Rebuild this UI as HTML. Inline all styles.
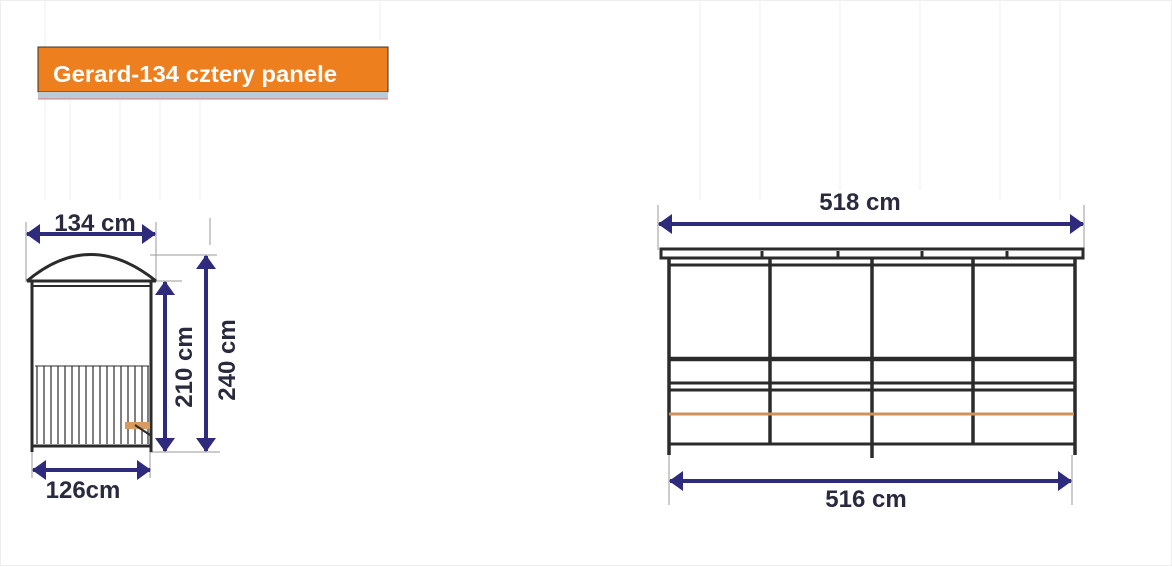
<!DOCTYPE html>
<html><head><meta charset="utf-8"><style>
html,body{margin:0;padding:0;background:#fff;}
svg{display:block;}
text{font-family:"Liberation Sans",Arial,sans-serif;font-weight:bold;}
</style></head><body>
<svg width="1172" height="567" viewBox="0 0 1172 567" xmlns="http://www.w3.org/2000/svg">
<defs>
<marker id="a" viewBox="0 0 14 20" refX="13" refY="10" markerWidth="14" markerHeight="20" markerUnits="userSpaceOnUse" orient="auto-start-reverse">
<path d="M0,0 L14,10 L0,20 Z" fill="#2e2a7c"/></marker>
</defs>
<rect x="0.5" y="0.5" width="1171" height="565" fill="none" stroke="#eee"/>
<g stroke="#efefef" stroke-width="1">
<line x1="45" y1="0" x2="45" y2="200"/><line x1="70" y1="100" x2="70" y2="200"/><line x1="120" y1="100" x2="120" y2="200"/>
<line x1="160" y1="100" x2="160" y2="200"/><line x1="200" y1="100" x2="200" y2="200"/><line x1="380" y1="0" x2="380" y2="40"/>
<line x1="700" y1="0" x2="700" y2="200"/><line x1="760" y1="0" x2="760" y2="200"/><line x1="840" y1="0" x2="840" y2="190"/>
<line x1="920" y1="0" x2="920" y2="190"/><line x1="1000" y1="0" x2="1000" y2="200"/><line x1="1060" y1="0" x2="1060" y2="200"/>
</g>
<rect x="38" y="47" width="350" height="45" fill="#ee7f1e" stroke="#333" stroke-width="1"/>
<rect x="38" y="92" width="350" height="7" fill="#b9cbd6"/>
<line x1="38" y1="99" x2="388" y2="99" stroke="#d77" stroke-width="1"/>
<text x="53" y="82" font-size="23" fill="#fff" textLength="284" lengthAdjust="spacingAndGlyphs">Gerard-134 cztery panele</text>

<g stroke="#999" stroke-width="1">
<line x1="26" y1="222" x2="26" y2="282"/><line x1="156" y1="222" x2="156" y2="282"/>
<line x1="150" y1="255" x2="217" y2="255"/><line x1="150" y1="281" x2="182" y2="281"/>
<line x1="150" y1="452" x2="220" y2="452"/><line x1="210" y1="218" x2="210" y2="245"/>
<line x1="32" y1="452" x2="32" y2="478"/><line x1="150" y1="452" x2="150" y2="478"/>
</g>
<g stroke="#2b2b2b" fill="none">
<path d="M27,281 Q90,228 156,281" stroke-width="3"/>
<line x1="27" y1="281" x2="156" y2="281" stroke-width="3"/>
<line x1="32" y1="286" x2="151" y2="286" stroke-width="2"/>
<line x1="32" y1="281" x2="32" y2="452" stroke-width="3"/>
<line x1="151" y1="281" x2="151" y2="452" stroke-width="3"/>
<line x1="35" y1="366" x2="149" y2="366" stroke-width="1"/>
<line x1="32" y1="446" x2="151" y2="446" stroke-width="3"/>
<g stroke-width="1.2">
<line x1="37" y1="366" x2="37" y2="444"/><line x1="44" y1="366" x2="44" y2="444"/><line x1="51" y1="366" x2="51" y2="444"/>
<line x1="58" y1="366" x2="58" y2="444"/><line x1="65" y1="366" x2="65" y2="444"/><line x1="72" y1="366" x2="72" y2="444"/>
<line x1="79" y1="366" x2="79" y2="444"/><line x1="86" y1="366" x2="86" y2="444"/><line x1="93" y1="366" x2="93" y2="444"/>
<line x1="100" y1="366" x2="100" y2="444"/><line x1="107" y1="366" x2="107" y2="444"/><line x1="114" y1="366" x2="114" y2="444"/>
<line x1="121" y1="366" x2="121" y2="444"/><line x1="128" y1="366" x2="128" y2="444"/><line x1="135" y1="366" x2="135" y2="444"/>
<line x1="142" y1="366" x2="142" y2="444"/><line x1="148" y1="366" x2="148" y2="444"/>
</g>
</g>
<rect x="125" y="422" width="25" height="7" fill="#d89a5e"/>
<line x1="135" y1="425" x2="150" y2="435" stroke="#2b2b2b" stroke-width="2"/>
<g stroke="#2e2a7c" stroke-width="4" marker-start="url(#a)" marker-end="url(#a)">
<line x1="27" y1="234" x2="155" y2="234"/>
<line x1="165" y1="282" x2="165" y2="451"/>
<line x1="206" y1="256" x2="206" y2="451"/>
<line x1="33" y1="470" x2="150" y2="470"/>
</g>
<g fill="#2a2a3e" font-size="24">
<text x="95" y="231" text-anchor="middle">134 cm</text>
<text x="83" y="498" text-anchor="middle">126cm</text>
<text transform="translate(192,367) rotate(-90)" text-anchor="middle">210 cm</text>
<text transform="translate(235,360) rotate(-90)" text-anchor="middle">240 cm</text>
</g>

<g stroke="#999" stroke-width="1">
<line x1="658" y1="205" x2="658" y2="250"/><line x1="1084" y1="205" x2="1084" y2="250"/>
<line x1="669" y1="455" x2="669" y2="505"/><line x1="1072" y1="455" x2="1072" y2="505"/>
</g>
<g stroke="#2b2b2b" fill="none">
<rect x="661" y="249" width="422" height="9" stroke-width="3"/>
<line x1="762" y1="251" x2="762" y2="257" stroke-width="3"/>
<line x1="838" y1="251" x2="838" y2="257" stroke-width="3"/>
<line x1="922" y1="251" x2="922" y2="257" stroke-width="3"/>
<line x1="1007" y1="251" x2="1007" y2="257" stroke-width="3"/>
<line x1="662" y1="258" x2="1082" y2="258" stroke-width="3"/>
<line x1="669" y1="259" x2="669" y2="455" stroke-width="3.5"/>
<line x1="770" y1="259" x2="770" y2="443" stroke-width="3.5"/>
<line x1="872" y1="259" x2="872" y2="458" stroke-width="3.5"/>
<line x1="973" y1="259" x2="973" y2="443" stroke-width="3.5"/>
<line x1="1075" y1="259" x2="1075" y2="455" stroke-width="3.5"/>
<line x1="669" y1="265" x2="1075" y2="265" stroke-width="3"/>
<line x1="669" y1="359" x2="1075" y2="359" stroke-width="4.5"/>
<line x1="669" y1="383" x2="1075" y2="383" stroke-width="3"/>
<line x1="669" y1="390" x2="1075" y2="390" stroke-width="3"/>
<line x1="669" y1="444" x2="1075" y2="444" stroke-width="3"/>
</g>
<line x1="669" y1="414" x2="1074" y2="414" stroke="#d0925a" stroke-width="3"/>
<g stroke="#2e2a7c" stroke-width="4" marker-start="url(#a)" marker-end="url(#a)">
<line x1="659" y1="224" x2="1083" y2="224"/>
<line x1="670" y1="481" x2="1071" y2="481"/>
</g>
<g fill="#2a2a3e" font-size="24">
<text x="860" y="210" text-anchor="middle">518 cm</text>
<text x="866" y="507" text-anchor="middle">516 cm</text>
</g>
</svg>
</body></html>
